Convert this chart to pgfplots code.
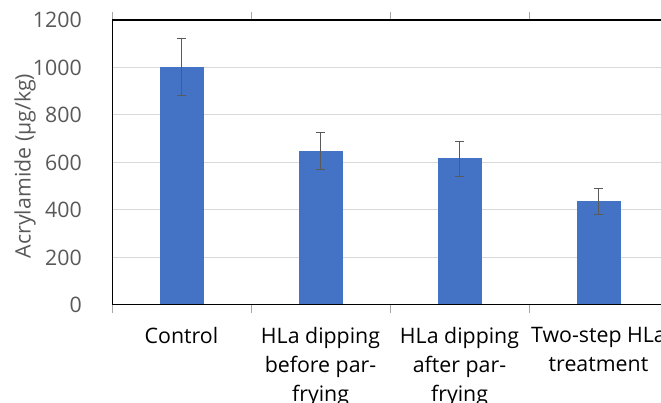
\documentclass[border=0pt]{standalone}
\usepackage{fontspec}
\setmainfont{Open Sans}
\usepackage{pgfplots}
\pgfplotsset{compat=1.18}
\definecolor{barblue}{HTML}{4472C4}
\definecolor{errgray}{HTML}{5A5A5A}
\definecolor{labgray}{HTML}{595959}
\definecolor{gridgray}{HTML}{D9D9D9}
\definecolor{axgray}{HTML}{A6A6A6}
\begin{document}
\begin{tikzpicture}
\useasboundingbox (0,0) rectangle (495.75pt,302.25pt);
\clip (0,0) rectangle (495.75pt,302.25pt);
\begin{axis}[
 at={(84pt,73.5pt)}, anchor=south west, scale only axis,
 width=417pt, height=213.75pt,
 xmin=-0.5, xmax=3.5, ymin=0, ymax=1200,
 ytick={0,200,...,1200},
 ymajorgrids, grid style={gridgray, line width=0.75pt},
 axis line style={draw=none},
 ytick style={draw=none},
 xtick={-0.5,0.5,1.5,2.5,3.5},
 x tick label as interval,
 xticklabels={Control, {HLa dipping\\before par-\\frying}, {HLa dipping\\after par-\\frying}, {Two-step HLa\\treatment}},
 xtick style={draw=axgray, line width=0.75pt},
 major tick length=6pt, tick align=outside,
 xticklabel style={font=\fontsize{16}{21.6}\selectfont, align=center, anchor=north, inner sep=0pt, yshift=-10.5pt, text=black},
 yticklabel style={font=\fontsize{16}{18}\selectfont, text=labgray, anchor=east, inner sep=0pt, xshift=-16.5pt},
 /pgf/number format/assume math mode=true,
 /pgf/number format/1000 sep={},
 ylabel={Acrylamide (µg/kg)},
 ylabel style={font=\fontsize{16}{18}\selectfont, text=labgray, at={(axis description cs:-0.1565,0.488)}, anchor=center},
]
\addplot[ybar, bar width=32.25pt, fill=barblue, draw=barblue,
  error bars/.cd, y dir=both, y explicit,
  error bar style={errgray, line width=0.75pt},
  error mark options={errgray, line width=0.75pt, mark size=3.5pt, rotate=90}]
  coordinates {(0,1000) +- (0,120) (1,648) +- (0,78) (2,616) +- (0,74) (3,436) +- (0,53)};
\draw[axgray, line width=0.75pt] ([yshift=-1.5pt]rel axis cs:0,0) -- ([yshift=-1.5pt]rel axis cs:1,0);
\draw[black, line width=0.75pt] (rel axis cs:0,0) -- (rel axis cs:1,0);
\draw[black, line width=2pt, line cap=rect] (rel axis cs:0,0) -- (rel axis cs:0,1) -- (rel axis cs:1,1);
\end{axis}
\end{tikzpicture}
\end{document}
